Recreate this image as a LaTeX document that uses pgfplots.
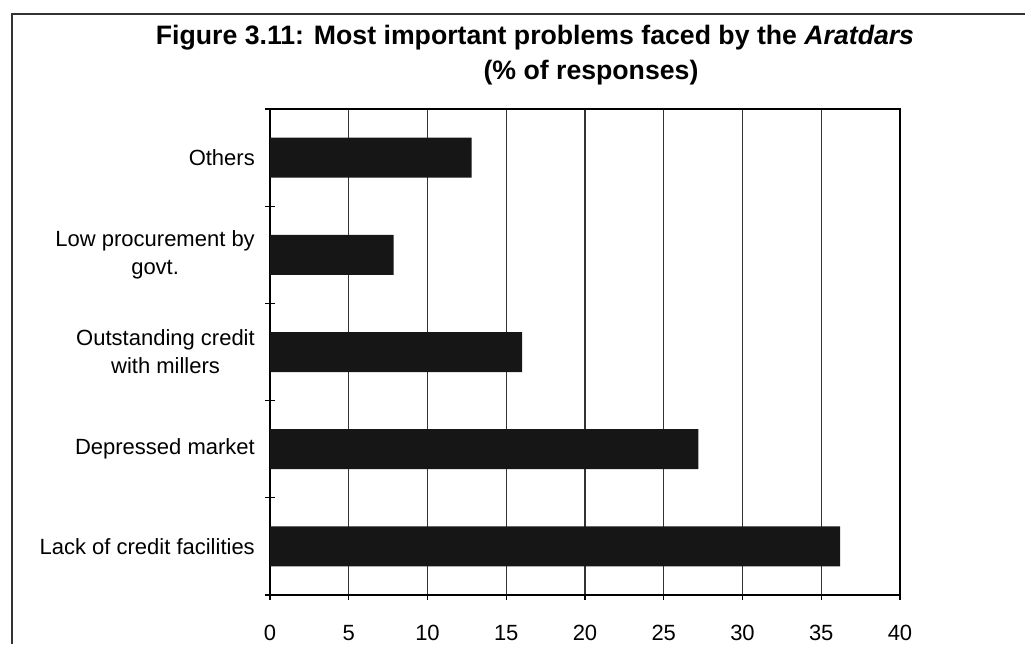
\documentclass[border=0pt]{standalone}
\usepackage{pgfplots}
\pgfplotsset{compat=1.18}
\usepackage{fontspec}
\setmainfont{Liberation Sans}
\newlength{\px}\setlength{\px}{0.75pt}
\definecolor{barblk}{HTML}{161616}
\begin{document}
\begin{tikzpicture}[x=0.75pt,y=0.75pt]
\path[use as bounding box] (0,0) rectangle (1025,644);
\draw[line width=1.5\px, black!80] (12,0) -- (12,630) -- (1025,630);
\node[anchor=base, font=\fontsize{20}{24}\selectfont\bfseries] at (535,599) {Figure 3.11: Most important problems faced by the \textit{Aratdars}};
\node[anchor=base, font=\fontsize{20}{24}\selectfont\bfseries] at (591,564) {(\% of responses)};
\begin{scope}[xshift=202.5pt, yshift=36.75pt]
\begin{axis}[
  at={(0pt,0pt)}, anchor=south west, scale only axis,
  width=630\px, height=486\px,
  xbar, bar width=40\px,
  xmin=0, xmax=40, ymin=-0.5, ymax=4.5,
  tick pos=left,
  xtick={0,5,...,40}, xtick align=outside,
  xmajorgrids, grid style={black!80, line width=0.9pt},
  ytick={0,1,2,3,4},
  yticklabels={Lack of credit facilities, Depressed market, {Outstanding credit\\with millers}, {Low procurement by\\govt.}, Others},
  major tick length=5\px,
  major y tick style={draw=none},
  minor ytick={-0.5,0.5,1.5,2.5,3.5,4.5},
  minor tick length=10\px, ytick align=center,
  minor y tick style={black, line width=0.9pt},
  axis line style={black, line width=1.6\px},
  tick style={black, line width=0.9pt},
  tick label style={font=\fontsize{16.5}{21}\selectfont},
  yticklabel style={align=center, xshift=-8\px},
  xticklabel style={anchor=base, yshift=-40\px},
  /pgf/number format/assume math mode=true,
]
\addplot[fill=barblk, draw=none] coordinates {(36.2,0) (27.2,1) (16.0,2) (7.85,3) (12.8,4)};
\end{axis}
\end{scope}
\end{tikzpicture}
\end{document}
